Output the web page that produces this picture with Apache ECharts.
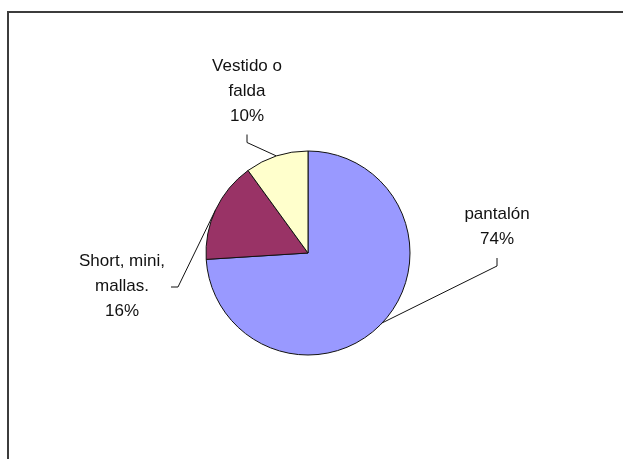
<!DOCTYPE html>
<html>
<head>
<meta charset="utf-8">
<script src="https://cdn.jsdelivr.net/npm/echarts@6/dist/echarts.min.js"></script>
<style>
  html, body { margin: 0; padding: 0; background: #fff; }
  #frame {
    position: absolute; left: 7px; top: 11px; width: 660px; height: 480px;
    border-left: 2px solid #3c3c3c; border-top: 2px solid #3c3c3c;
  }
  #chart { position: absolute; left: 0; top: 0; width: 623px; height: 459px; }
</style>
</head>
<body>
<div id="frame"></div>
<div id="chart"></div>
<script>
// data
const categories = ['pantalón', 'Short, mini,\nmallas.', 'Vestido o\nfalda']
const percents = [74, 16, 10]
const sliceColors = ['#9999ff', '#993366', '#ffffcc']

// label centres and the side their leader tick leaves from
const labelSpots = [
  { x: 497, y: 227, side: 'bottom' },
  { x: 122, y: 286, side: 'right' },
  { x: 247, y: 91, side: 'bottom' }
]

const chart = echarts.init(document.getElementById('chart'), null, { renderer: 'canvas' })

chart.setOption({
  backgroundColor: 'transparent',
  animation: false,
  series: [
    {
      type: 'pie',
      center: [308, 253],
      radius: 102,
      startAngle: 90,
      clockwise: true,
      avoidLabelOverlap: false,
      data: categories.map(function (name, i) {
        return { name: name, value: percents[i], itemStyle: { color: sliceColors[i] } }
      }),
      itemStyle: {
        borderColor: '#111',
        borderWidth: 1
      },
      label: {
        show: true,
        position: 'outside',
        color: '#111',
        fontFamily: 'Liberation Sans, Arial, sans-serif',
        fontSize: 17,
        lineHeight: 25,
        formatter: function (p) {
          return p.name + '\n' + p.value + '%'
        }
      },
      labelLine: {
        show: true,
        length: 20,
        length2: 10,
        lineStyle: { color: '#111', width: 1 }
      },
      labelLayout: function (params) {
        const spot = labelSpots[params.dataIndex]
        const w = params.labelRect.width
        const h = params.labelRect.height
        const edge = params.labelLinePoints ? params.labelLinePoints[0] : null
        const out = { x: spot.x, y: spot.y, align: 'center', verticalAlign: 'middle' }
        if (edge) {
          if (spot.side === 'bottom') {
            const b = spot.y + h / 2
            out.labelLinePoints = [edge, [spot.x, b + 14], [spot.x, b + 6]]
          } else {
            const r = spot.x + w / 2
            out.labelLinePoints = [edge, [r + 13, spot.y + 1], [r + 6, spot.y + 1]]
          }
        }
        return out
      }
    }
  ]
})
</script>
</body>
</html>
